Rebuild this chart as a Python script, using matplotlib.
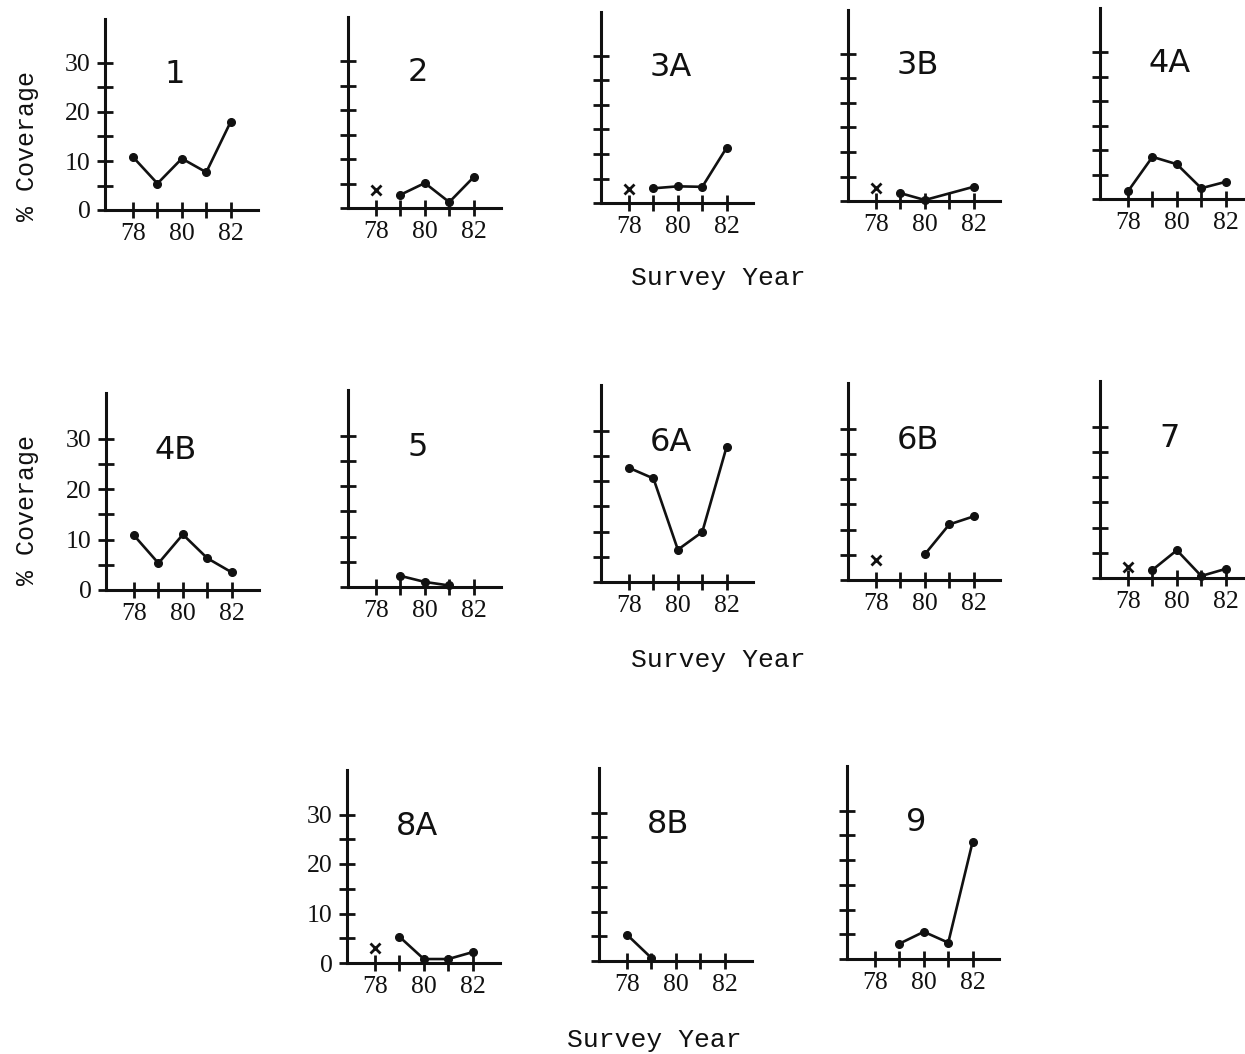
import matplotlib
matplotlib.use("Agg")
import matplotlib.pyplot as plt

# ---------------- data ----------------
panel_names = ["1", "2", "3A", "3B", "4A", "4B", "5", "6A", "6B", "7", "8A", "8B", "9"]

years_1 = [78, 79, 80, 81, 82]
cov_1 = [10.8, 5.4, 10.5, 7.7, 18.0]

years_2 = [79, 80, 81, 82]
cov_2 = [2.7, 5.1, 1.2, 6.3]
x78_2 = 3.7

years_3A = [79, 80, 81, 82]
cov_3A = [3.0, 3.4, 3.3, 11.3]
x78_3A = 2.9

years_3B = [79, 80, 82]
cov_3B = [1.6, 0.2, 2.9]
x78_3B = 2.7

years_4A = [78, 79, 80, 81, 82]
cov_4A = [1.6, 8.6, 7.1, 2.2, 3.5]

years_4B = [78, 79, 80, 81, 82]
cov_4B = [10.8, 5.3, 11.0, 6.3, 3.5]

years_5 = [79, 80, 81]
cov_5 = [2.2, 1.0, 0.3]

years_6A = [78, 79, 80, 81, 82]
cov_6A = [22.6, 20.5, 6.4, 9.9, 26.8]

years_6B = [80, 81, 82]
cov_6B = [5.1, 11.0, 12.6]
x78_6B = 4.0

years_7 = [79, 80, 81, 82]
cov_7 = [1.6, 5.5, 0.4, 1.8]
x78_7 = 2.2

years_8A = [79, 80, 81, 82]
cov_8A = [5.3, 0.8, 0.8, 2.2]
x78_8A = 3.1

years_8B = [78, 79]
cov_8B = [5.3, 0.6]

years_9 = [79, 80, 81, 82]
cov_9 = [3.1, 5.5, 3.3, 23.7]

x_ticks = [78, 79, 80, 81, 82]
x_ticklabels = ["78", "", "80", "", "82"]
y_ticks = [0, 5, 10, 15, 20, 25, 30]
y_ticklabels = ["0", "", "10", "", "20", "", "30"]

series = {
    "1": (years_1, cov_1, None),
    "2": (years_2, cov_2, x78_2),
    "3A": (years_3A, cov_3A, x78_3A),
    "3B": (years_3B, cov_3B, x78_3B),
    "4A": (years_4A, cov_4A, None),
    "4B": (years_4B, cov_4B, None),
    "5": (years_5, cov_5, None),
    "6A": (years_6A, cov_6A, None),
    "6B": (years_6B, cov_6B, x78_6B),
    "7": (years_7, cov_7, x78_7),
    "8A": (years_8A, cov_8A, x78_8A),
    "8B": (years_8B, cov_8B, None),
    "9": (years_9, cov_9, None),
}

# ---------------- layout (pixels) ----------------
W, H = 1245, 1054
# origin of each panel (x of y-axis, y of x-axis) and px per % unit
layout = {
    "1": (105, 210, 4.9), "2": (348, 208, 4.9), "3A": (601, 203, 4.9),
    "3B": (848, 201, 4.9), "4A": (1100, 199, 4.9),
    "4B": (106, 590, 5.05), "5": (348, 587, 5.05), "6A": (601, 582, 5.05),
    "6B": (848, 580, 5.05), "7": (1100, 578, 5.05),
    "8A": (347, 963, 4.95), "8B": (599, 961, 4.95), "9": (847, 959, 4.95),
}
left_col = {"1", "4B", "8A"}
XMIN, XMAX = 76.85, 83.1
YMAX = 39.0
PX_PER_YEAR = 24.4

tick_font = "Liberation Serif"
mono_font = "Liberation Mono"
title_font = "DejaVu Sans"

fig = plt.figure(figsize=(W / 100, H / 100), dpi=100)
fig.patch.set_facecolor("white")

for name in panel_names:
    x0, y0, ppu = layout[name]
    wpx = (XMAX - XMIN) * PX_PER_YEAR
    hpx = YMAX * ppu
    ax = fig.add_axes([x0 / W, 1 - y0 / H, wpx / W, hpx / H])
    ax.set_xlim(XMIN, XMAX)
    ax.set_ylim(0, YMAX)
    ax.patch.set_alpha(0)
    for s in ("top", "right"):
        ax.spines[s].set_visible(False)
    for s in ("left", "bottom"):
        ax.spines[s].set_linewidth(2.2)
        ax.spines[s].set_color("#111111")
    ax.set_xticks(x_ticks)
    ax.set_xticklabels(x_ticklabels, fontfamily=tick_font, fontsize=18.5)
    ax.set_yticks(y_ticks)
    if name in left_col:
        ax.set_yticklabels(y_ticklabels, fontfamily=tick_font, fontsize=18.5)
    else:
        ax.set_yticklabels([])
    ax.tick_params(axis="both", direction="inout", length=11, width=2,
                   color="#111111", labelcolor="#111111")
    ax.tick_params(axis="x", pad=4)
    ax.tick_params(axis="y", pad=5)

    yrs, vals, xval = series[name]
    ax.plot(yrs, vals, color="#111111", lw=1.9, marker="o", ms=5.5,
            clip_on=False, zorder=3)
    if xval is not None:
        ax.plot([78], [xval], linestyle="none", marker="x", ms=7.5, mew=2,
                color="#111111", clip_on=False, zorder=3)
    ax.text(79.7, 27.6, name, fontfamily=title_font, fontsize=23,
            ha="center", va="center", color="#111111")

# axis labels
def ftext(x, y, s, **kw):
    fig.text(x / W, 1 - y / H, s, ha="center", va="center", color="#111111",
             fontfamily=mono_font, **kw)

ftext(27, 146, "% Coverage", fontsize=18, rotation=90)
ftext(27, 510, "% Coverage", fontsize=18, rotation=90)
ftext(718, 278, "Survey Year", fontsize=19)
ftext(718, 660, "Survey Year", fontsize=19)
ftext(654, 1040, "Survey Year", fontsize=19)

fig.savefig("out.png", dpi=100, facecolor="white")
